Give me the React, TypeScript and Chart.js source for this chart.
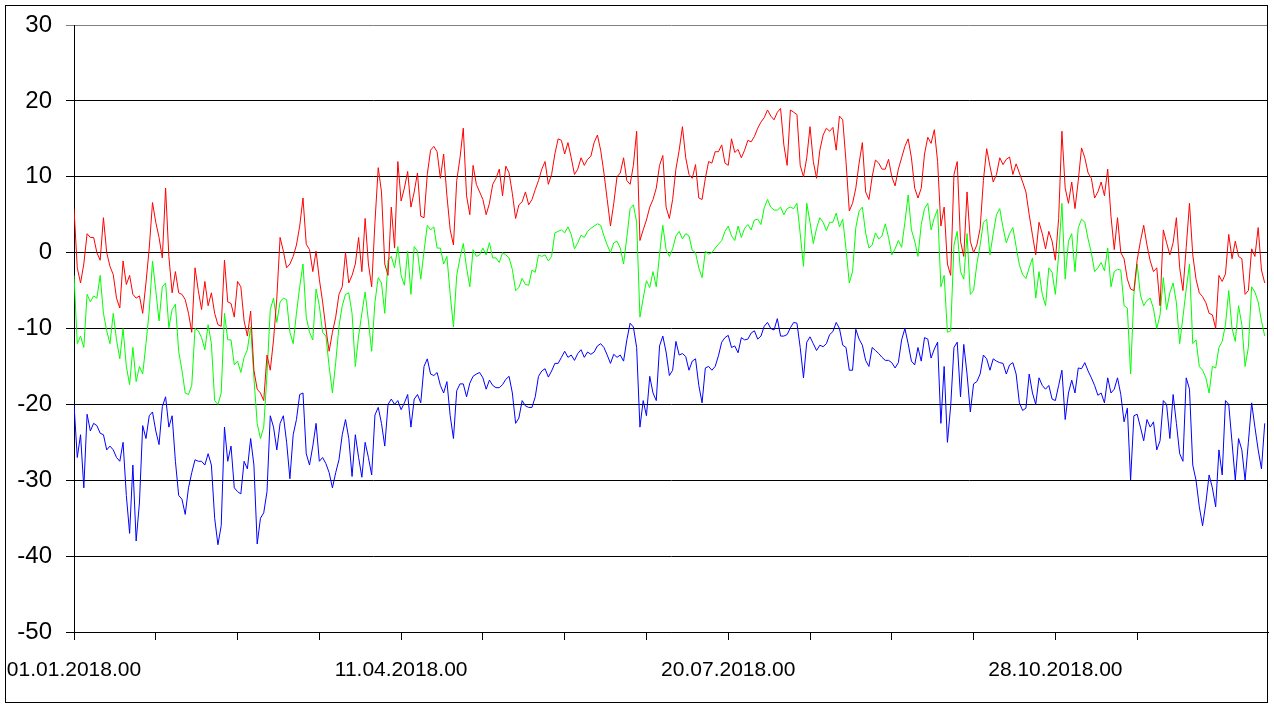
import { useEffect, useRef } from "react";
import { Chart, registerables, type ChartConfiguration } from "chart.js";

Chart.register(...registerables);

// one reading per day, starting 01.01.2018 (day 0)
const STEP_DAYS = 1;

const red = [
  5.8, -2, -4, -1.5, 2.5, 2, 2, 0, -1, 4.6,
  0, -1.8, -2.9, -6, -7.3, -1.1, -4.2, -3, -5.5, -6,
  -5.7, -8, -4, 0.6, 6.6, 4, 2, -0.7, 8.5, -0.5,
  -5.3, -2.5, -5.3, -5.5, -6.2, -8, -10.5, -2, -5, -7.5,
  -3.8, -7, -5.3, -8, -9.5, -9.7, -1, -6.5, -6.7, -8.5,
  -3.8, -4.5, -9, -11, -7.7, -15.5, -18, -18.5, -19.5, -13.5,
  -15.5, -11.5, -6, 2, 0.2, -2, -1.5, -0.5, 1, 3.5,
  7.2, 1.1, 0.4, -2.5, 0.2, -3.5, -6.5, -10, -13, -10.5,
  -8.5, -5.5, -4.5, 0, -4, -3, -1.5, 2, -2.5, 4.5,
  -1.5, -4.5, 4, 11.2, 8, -1.5, -3, 6, 0.6, 12,
  6.8, 8.5, 10.7, 6, 8, 10.5, 4.8, 4.6, 10.3, 13.5,
  14, 13.3, 9.8, 13, 7.5, 3, 1, 9.5, 12.5, 16.4,
  7.5, 5, 11.5, 9, 8, 7, 5, 6.5, 9, 9.8,
  11, 7.5, 11.4, 10.5, 7.8, 4.5, 6.3, 6.7, 8, 6.3,
  7, 8.3, 9.5, 11, 12, 9, 10.3, 13, 15, 14.8,
  13, 14.5, 12.5, 10.3, 11, 12.5, 11.5, 12.3, 12.7, 14.5,
  15.5, 13.5, 10.5, 7, 3.5, 6.5, 10, 10.5, 12.5, 9.5,
  9, 11.5, 16, 1.6, 3, 4.3, 6, 7, 8.5, 11.5,
  12.8, 6, 4.5, 7, 11, 13.5, 16.6, 12.5, 10.3, 9.8,
  11.6, 7.2, 7, 9.8, 12, 11.8, 13.3, 13.3, 14.2, 11.8,
  11.5, 15, 13.2, 13.6, 12.5, 13.5, 14.8, 14.6, 15.3, 16.4,
  17.2, 17.8, 18.8, 18, 17.5, 18.5, 19, 14.2, 11.5, 18.8,
  18.5, 18.2, 11.5, 10, 12.5, 16.6, 12, 9.8, 13.5, 15.5,
  16.4, 16, 16.5, 13.5, 18, 17.5, 12, 5.5, 6.5, 8.5,
  11.8, 14.5, 8, 7, 10, 12.2, 11.8, 11, 11, 12.3,
  10, 8.8, 11, 12.5, 14, 15, 12.5, 8.5, 7.2, 8.5,
  13, 15.2, 14.4, 16.2, 12, 3.5, 6, -1.5, -3, 10.3,
  12, 1.5, -0.5, 8, 1.5, 0, 1, 3.2, 9.5, 13.7,
  11.4, 9.3, 10.3, 12.5, 11.6, 12.3, 12.6, 10.3, 11.7, 10.5,
  9.3, 8, 5, 2.3, -0.3, 4, 2.5, 0.5, 2.8, 1.5,
  -1, 4.5, 16, 8.5, 6.5, 9.3, 5.8, 9.5, 13.8, 12.5,
  10.5, 9.8, 7.2, 8, 9.3, 7.5, 11, 4.8, 0.4, 4.6,
  0, -0.8, -3.5, -4.8, -5, -1, 1.5, 3.6, 1, -1.1,
  -2.5, -2, -7, 3, 1.3, -0.3, 1.3, 4.6, -2, -5,
  0.7, 6.5, -0.3, -3.5, -5.3, -5.8, -6.6, -8, -8.2, -10,
  -3, -3.8, -2.8, 2.4, -0.8, 1.5, -0.5, -0.8, -5.5, -5,
  0.5, -0.5, 3.3, -2.3, -4,
];

const green = [
  -3, -12, -11, -12.5, -5.5, -6.5, -5.7, -6, -3, -8,
  -10.3, -12, -8, -11.5, -14, -10, -15, -17.4, -12.5, -17,
  -15, -16, -12, -7.7, -1.1, -5, -9, -4.5, -4, -9.9,
  -7.5, -6.8, -13, -15.5, -18.5, -18.7, -17.5, -10, -10.3, -11.2,
  -12.8, -9.5, -12, -19.5, -20, -18.5, -8, -11.5, -11.5, -14.8,
  -14.3, -15.8, -13.8, -12.8, -9.8, -16.5, -22.5, -24.5, -23, -16,
  -7.5, -6, -9.2, -6.5, -6, -6.2, -10.5, -12, -8, -4.5,
  -1.5, -8.5, -10.5, -11.5, -4.8, -7, -10.5, -11, -15, -18.5,
  -14.5, -9.7, -7, -5.5, -5.3, -8, -15, -11, -8, -5.2,
  -9, -13, -6.5, -3.3, -4, -8, -1, -0.5, -2, 0.8,
  -3, -4.3, 0.2, -5.5, 0.8, 0.2, -3.5, 0.2, 3.6, 3,
  3.4, 0.6, 0.6, -1.5, -0.5, -5.5, -9.8, -3, -0.7, 1.2,
  -2, -4.5, 0.4, -0.5, -0.3, 0.6, -0.3, 1.3, -0.7, -0.7,
  -1.3, 0, -0.3, -0.7, -2.2, -5, -4.6, -3.4, -4.2, -4.3,
  -2.3, -2.6, -0.3, -0.5, -0.3, -1.1, -0.5, 2.6, 2.8, 3,
  2.6, 3.4, 2.4, 0.5, 1.3, 2.3, 2, 2.8, 3.2, 3.5,
  3.8, 3.6, 2.2, 1, 0, 1.3, 1.5, 0.6, -1.5, 2,
  5.8, 6.3, 4, -8.5, -6, -3.7, -4.6, -2.5, -4.5, -0.2,
  3.6, 0.4, -0.5, 0.5, 2.2, 2.8, 1.8, 2.5, 2.2, 0.3,
  0, -2, -3.3, 0.2, -0.2, 0, 0.6, 1.1, 1.6, 2.8,
  3.5, 2.2, 1.6, 3.5, 2, 3.2, 3.7, 3, 4.3, 4.4,
  3.7, 5.9, 7, 6, 5.6, 5.6, 6, 5, 5.8, 6,
  5.8, 6.5, 2.5, -1.8, 6.5, 4, 1.2, 3.2, 4.6, 4,
  2.9, 4, 4, 5.2, 3.4, 4.4, 0.5, -4, -2.5, 3.3,
  5.5, 6, 2.6, 0.6, 1, 2.6, 1.8, 2.2, 3.8, 2,
  -0.3, 0.5, 1.6, 0.7, 4, 7.6, 3, 1.5, -0.5, 3.7,
  5.8, 6.5, 3, 4.6, 5.7, -4.5, -3, -10.5, -10.3, 1,
  2.8, -2.5, -3.5, 2.5, -5.5, -5, -1.5, 1, 4, 4.4,
  -0.3, 2.5, 5, 5.8, 3.3, 1.3, 2.5, 3.3, 0.8, -1.6,
  -2.9, -3.4, -2, -0.7, -6, -2.5, -5.5, -7, -2, -2.6,
  -5.5, -0.3, 6.5, -3.5, 1.5, 2.5, -2.5, 3.3, 4.4, 4,
  1.8, 0, -2.5, -2, -1.3, -2.4, 0.6, -4.5, -2.5, -2.2,
  -2.3, -7, -7.3, -16, -5.5, -1.5, -5.6, -7, -6.3, -6,
  -7.4, -10, -8.2, -3.3, -7.5, -5.3, -4, -6.6, -12, -8.5,
  -4.8, -1.5, -12, -11.5, -15, -15.5, -16.5, -18.5, -15, -15.2,
  -12.5, -11.7, -9.5, -5, -10, -11.7, -7, -9.5, -15, -12.5,
  -4.5, -5.2, -6.5, -9, -11,
];

const blue = [
  -20, -27, -24, -31, -21.3, -23.5, -22.5, -22.8, -23.8, -24,
  -26, -25.5, -26, -27, -27.5, -25, -32, -37, -28, -38,
  -33, -22.8, -24.5, -21.5, -21, -23.5, -25.3, -20.3, -19, -23,
  -21.5, -27.5, -32, -32.5, -34.5, -31, -29, -27.3, -27.5, -27.5,
  -28, -26.5, -28, -35, -38.5, -36, -23, -27.5, -25.5, -31,
  -31.5, -31.8, -27.5, -28.5, -24.5, -28, -38.4, -35, -34.3, -31.5,
  -21.5, -23, -26, -22.5, -21.5, -25, -29.8, -24, -22, -18.7,
  -18.5, -26.5, -28, -25.5, -22.5, -27.5, -27, -27.8, -29, -31,
  -29, -27.3, -24, -22, -24.5, -29.5, -24, -27, -29.6, -25,
  -27, -29.3, -21.4, -20.4, -22.5, -25.5, -20, -19.3, -20, -19.5,
  -20.7, -19.8, -18.7, -23, -19.3, -18.7, -19.8, -15, -14, -16,
  -16.2, -15.8, -17.5, -18.5, -17, -21.5, -24.5, -18.2, -17.3, -17.3,
  -19, -17.2, -16.3, -16, -15.8, -16.5, -18, -16.8, -17.5, -17.8,
  -17.8, -17.4, -16.7, -16.3, -18.5, -22.5, -21.8, -19.5, -20.2, -20.4,
  -20.4, -19, -16.3, -15.6, -15.3, -16.4, -15.6, -14.6, -14.6, -13.8,
  -13, -13.8, -13.5, -14.2, -13.3, -12.8, -13.8, -13.1, -13.4, -13.1,
  -12.3, -12, -12.5, -13.5, -14.6, -13.4, -13.8, -13.5, -14.3, -11.5,
  -9.3, -9.8, -12.5, -23, -19.5, -21.5, -16.3, -18.5, -19.5, -12.3,
  -11, -13.1, -16.2, -15.5, -11.7, -13.5, -13.3, -13.7, -15.5, -14.3,
  -14, -17.5, -19.8, -15.2, -15, -15.5, -15, -13.6, -11.8, -11.2,
  -10.9, -12.5, -12.3, -13.2, -11.2, -11.5, -11.4, -10.6, -10.3, -11.4,
  -11, -9.7, -9.2, -10, -10.2, -8.7, -11, -11, -10.8, -9.9,
  -9.2, -9.3, -12.5, -16.5, -11.8, -11.1, -12, -12.9, -12.2, -12.4,
  -12, -10.8, -10.4, -9.2, -10, -12.2, -12.5, -15.5, -15.5, -10.1,
  -11.4, -12.2, -14.2, -15, -12.5, -12.9, -13.3, -13.8, -14.2, -14.2,
  -14.5, -15.2, -14.5, -11.5, -10, -12, -14.3, -14.8, -12.5, -14.3,
  -11.2, -11.4, -13.9, -12.7, -11.8, -22.5, -15, -25, -20.2, -12.5,
  -11.8, -19, -12.1, -16, -21, -17.3, -17, -16, -13.5, -14,
  -15.5, -14, -14.3, -14.5, -14.6, -16, -14.8, -14.5, -16, -19.8,
  -20.8, -20.5, -16, -18.5, -20, -16.5, -17.5, -18, -17.5, -19.3,
  -19.5, -17.5, -15.5, -22, -18.5, -16.8, -18.5, -15.2, -15.3, -14.5,
  -15.6, -16.5, -17.5, -18.8, -18.5, -19.8, -16.5, -18.5, -18, -16.5,
  -18.7, -22.3, -20.5, -30, -21.5, -21.3, -23, -24.8, -22, -23,
  -22.3, -26, -24.8, -19.5, -20, -24.5, -18.7, -22.5, -26.5, -27.5,
  -16.5, -18, -28, -30, -33.5, -36, -33, -29.3, -31, -33.5,
  -26, -29.3, -19.5, -20, -25, -30, -24.5, -26, -30, -25,
  -19.8, -23, -26, -28.5, -22.5,
];

// x tick labels, one every 100 days
const dateLabels = ["01.01.2018.00", "11.04.2018.00", "20.07.2018.00", "28.10.2018.00"];

const yTicksMin = -50;
const yTicksMax = 30;

const toPoints = (values: number[]) => values.map((y, i) => ({ x: i * STEP_DAYS, y }));

const frame = {
  id: "frame",
  afterDraw(chart: Chart) {
    const { ctx } = chart;
    ctx.save();
    ctx.strokeStyle = "#000";
    ctx.lineWidth = 1;
    ctx.strokeRect(5.5, 5.5, 1262, 697);
    ctx.restore();
  },
};

export default function App() {
  const canvasRef = useRef<HTMLCanvasElement>(null);

  useEffect(() => {
    if (!canvasRef.current) return;
    const font = { family: "'Liberation Sans', Arial, sans-serif" };
    const line = (data: number[], color: string) => ({
      data: toPoints(data),
      borderColor: color,
      backgroundColor: color,
      borderWidth: 1,
      pointRadius: 0,
      tension: 0,
      fill: false,
    });
    const config: ChartConfiguration<"line"> = {
      type: "line",
      data: {
        datasets: [line(red, "#ff0000"), line(green, "#00ff00"), line(blue, "#0000ff")],
      },
      options: {
        animation: false,
        responsive: true,
        maintainAspectRatio: false,
        devicePixelRatio: 1,
        layout: { padding: { top: 25, right: 6, left: 0, bottom: 0 } },
        plugins: { legend: { display: false }, tooltip: { enabled: false } },
        scales: {
          x: {
            type: "linear",
            min: 0,
            max: 365,
            afterBuildTicks: (scale) => {
              scale.ticks = scale.ticks.filter((t) => t.value % 25 === 0 && t.value < 365);
            },
            afterFit: (scale) => {
              scale.height = 73;
              scale.paddingLeft = 0;
              scale.paddingRight = 0;
            },
            border: { color: "#000", width: 1 },
            grid: { drawOnChartArea: false, drawTicks: true, tickLength: 8, color: "#000" },
            ticks: {
              stepSize: 25,
              autoSkip: false,
              maxRotation: 0,
              padding: 18,
              color: "#000",
              font: { ...font, size: 21 },
              callback: (v) => (Number(v) % 100 === 0 ? dateLabels[Number(v) / 100] ?? "" : ""),
            },
          },
          y: {
            min: yTicksMin,
            max: yTicksMax,
            afterFit: (scale) => {
              scale.width = 74;
              scale.paddingTop = 0;
              scale.paddingBottom = 0;
            },
            border: { color: "#000", width: 1 },
            grid: {
              tickLength: 8,
              color: (c) => (c.tick && c.tick.value === yTicksMax ? "#808080" : "#000"),
            },
            ticks: {
              stepSize: 10,
              padding: 14,
              color: "#000",
              font: { ...font, size: 24 },
            },
          },
        },
      },
      plugins: [frame],
    };
    const chart = new Chart(canvasRef.current, config);
    return () => chart.destroy();
  }, []);

  return (
    <div style={{ position: "absolute", left: 0, top: 0, width: 1274, height: 705, background: "#fff" }}>
      <canvas ref={canvasRef} />
    </div>
  );
}
